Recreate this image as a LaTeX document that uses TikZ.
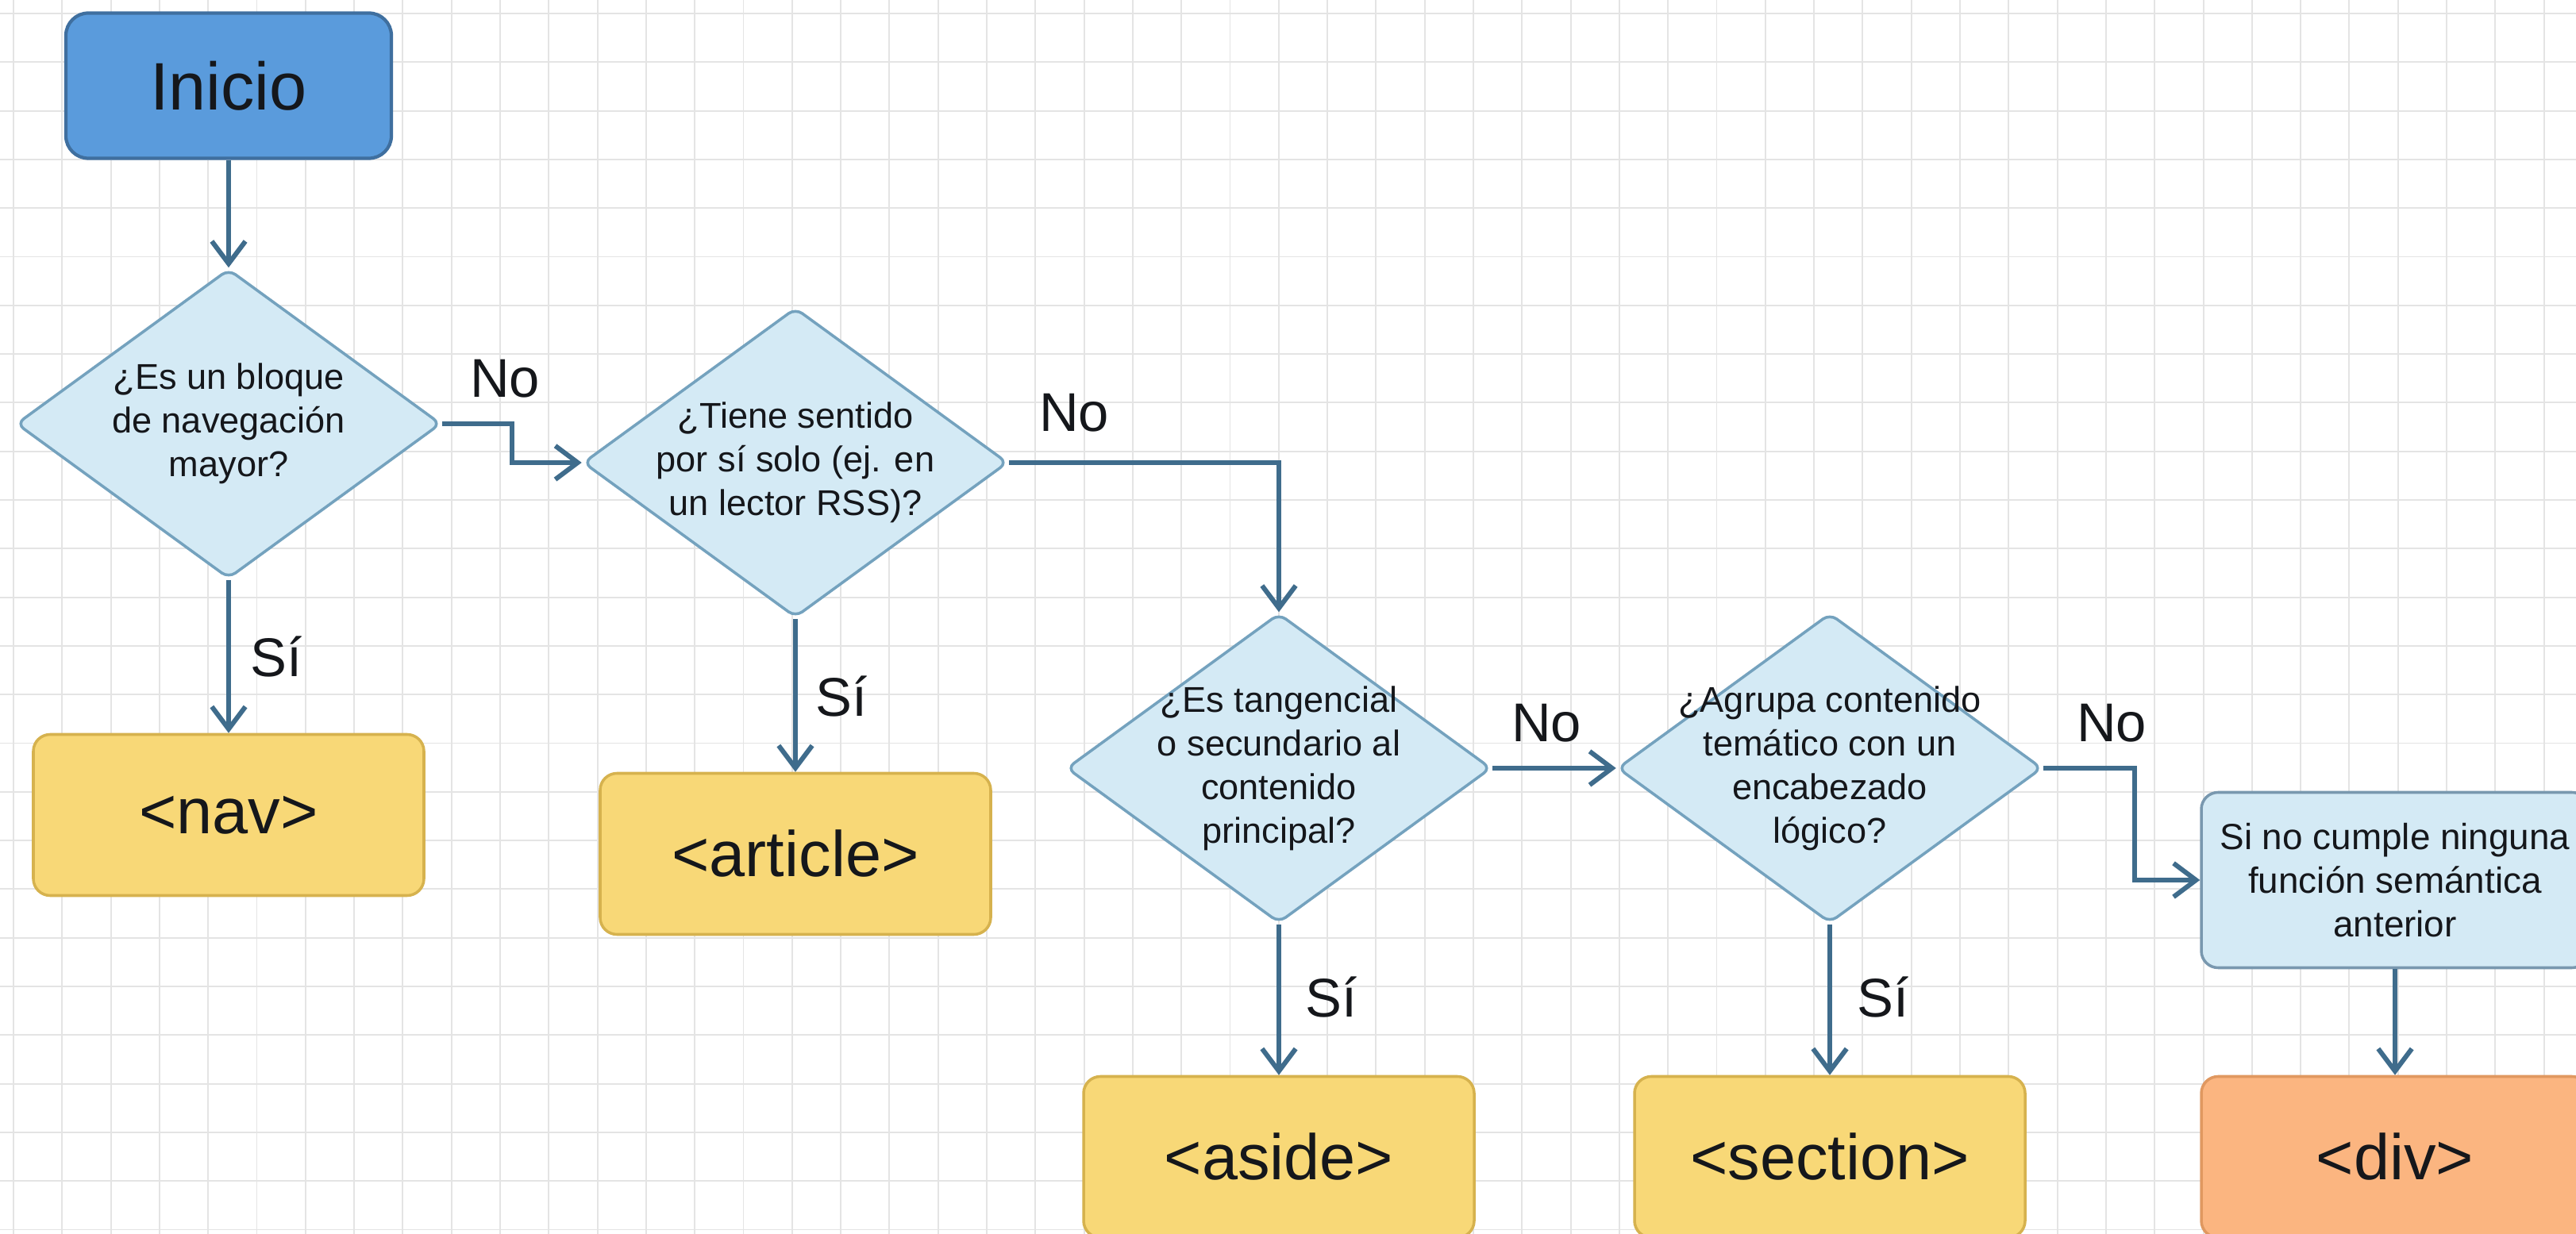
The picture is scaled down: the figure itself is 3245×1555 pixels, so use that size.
\documentclass[tikz,border=0pt]{standalone}
\usepackage{fontspec}
\setmainfont{Liberation Sans}
\usetikzlibrary{shapes.geometric,arrows.meta,calc}
\def\pxu{0.2835pt}
\definecolor{startblue}{HTML}{5A9BDC}
\definecolor{startedge}{HTML}{3F6F9F}
\definecolor{askfill}{HTML}{D4EAF5}
\definecolor{askedge}{HTML}{74A2BE}
\definecolor{tagfill}{HTML}{F8D877}
\definecolor{tagedge}{HTML}{D6B24E}
\definecolor{divfill}{HTML}{FBB580}
\definecolor{divedge}{HTML}{E09860}
\definecolor{flowline}{HTML}{3F6C8C}
\definecolor{gridgray}{HTML}{E4E4E4}
\definecolor{inkdark}{HTML}{15171B}
\tikzset{
  grid line/.style={draw=gridgray, line width=0.55pt},
  start box/.style={draw=startedge, fill=startblue, line width=1.2pt,
        rounded corners=8pt, minimum width=410*\pxu, minimum height=183*\pxu,
        text=inkdark, font=\fontsize{24}{28}\selectfont},
  ask shape/.style={shape=diamond, draw=askedge, fill=askfill, line width=1pt,
        rounded corners=3pt, minimum width=535*\pxu, minimum height=390*\pxu,
        inner sep=0pt},
  ask text/.style={align=center, text=inkdark, font=\fontsize{12.8}{15.6}\selectfont},
  tag box/.style={draw=tagedge, fill=tagfill, line width=1pt, rounded corners=6pt,
        minimum width=492*\pxu, minimum height=203*\pxu,
        text=inkdark, font=\fontsize{23}{27}\selectfont},
  div box/.style={tag box, draw=divedge, fill=divfill, minimum width=488*\pxu},
  note box/.style={draw=flowline!70, fill=askfill, line width=1pt, rounded corners=6pt,
        minimum width=488*\pxu, minimum height=221*\pxu, align=center,
        text=inkdark, font=\fontsize{13}{15.6}\selectfont},
  answer/.style={text=inkdark, font=\fontsize{19.5}{22}\selectfont},
  flow/.style={draw=flowline, line width=1.7pt,
        -{Straight Barb[length=8pt,width=12pt]}}
}

\begin{document}
\begin{tikzpicture}[x=0.2835pt, y=-0.2835pt]
\useasboundingbox (0,0) rectangle (3245,1555);
\clip (0,0) rectangle (3245,1555);
\fill[white] (0,0) rectangle (3245,1555);
\foreach \i in {0,...,52}
  \draw[grid line] ({17+61.3*\i},0) -- ({17+61.3*\i},1555);
\foreach \j in {0,...,25}
  \draw[grid line] (0,{17+61.3*\j}) -- (3245,{17+61.3*\j});

\node[start box] (inicio) at (288,108) {Inicio};

\node[ask shape] (nav q) at (288,534) {};
\node[ask text] at (nav q) {¿Es un bloque\\de navegación\\mayor?};
\node[ask shape] (article q) at (1002,583) {};
\node[ask text] at (article q) {¿Tiene sentido\\por sí solo (ej. en\\un lector RSS)?};
\node[ask shape] (aside q) at (1611,968) {};
\node[ask text] at (aside q) {¿Es tangencial\\o secundario al\\contenido\\principal?};
\node[ask shape] (section q) at (2305,968) {};
\node[ask text] at (section q) {¿Agrupa contenido\\temático con un\\encabezado\\lógico?};

\node[tag box] (nav) at (288,1027) {<nav>};
\node[tag box] (article) at (1002,1076) {<article>};
\node[tag box] (aside) at (1611,1458) {<aside>};
\node[tag box] (section) at (2305,1458) {<section>};
\node[note box] (fallback) at (3017,1109) {Si no cumple ninguna\\función semántica\\anterior};
\node[div box] (div) at (3017,1458) {<div>};

\node[answer] (no nav) at (636,477) {No};
\node[answer] (si nav) at (348,828) {Sí};
\node[answer] (no article) at (1353,520) {No};
\node[answer] (si article) at (1060,878) {Sí};
\node[answer] (no aside) at (1948,911) {No};
\node[answer] (si aside) at (1677,1257) {Sí};
\node[answer] (no section) at (2660,911) {No};
\node[answer] (si section) at (2372,1257) {Sí};

\draw[flow] (inicio.south) -- (nav q.north);
\draw[flow] (nav q.south) -- (nav.north);
\draw[flow] (nav q.east) -| ($(nav q.east)!.5!(article q.west)$) |- (article q.west);
\draw[flow] (article q.south) -- (article.north);
\draw[flow] (article q.east) -| (aside q.north);
\draw[flow] (aside q.south) -- (aside.north);
\draw[flow] (aside q.east) -- (section q.west);
\draw[flow] (section q.south) -- (section.north);
\draw[flow] (section q.east) -| ($(section q.east)!.58!(fallback.west)$) |- (fallback.west);
\draw[flow] (fallback.south) -- (div.north);
\end{tikzpicture}
\end{document}
